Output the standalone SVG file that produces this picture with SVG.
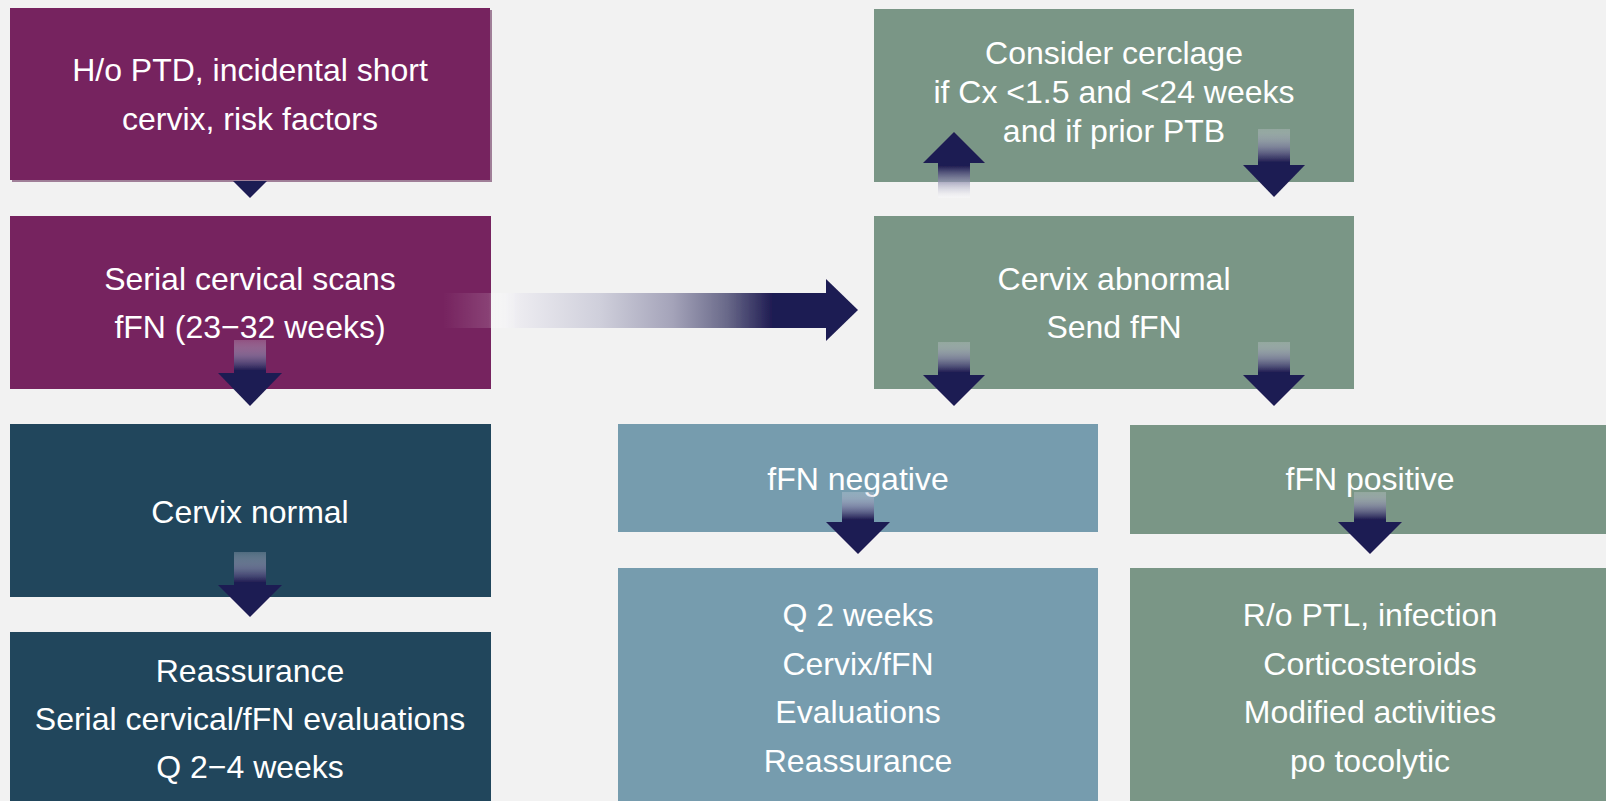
<svg xmlns="http://www.w3.org/2000/svg" width="1606" height="801" viewBox="0 0 1606 801">
  <style>
    .lbl { font-family: "Liberation Sans", Arial, sans-serif; font-size: 32px; fill: #ffffff; text-anchor: middle; }
    .purple { fill: #76235f; }
    .sage { fill: #7a9686; }
    .steel { fill: #769cae; }
    .teal { fill: #21465c; }
    .head { fill: #1f1c52; }
    .soft { filter: url(#soften); }
  </style>
  <defs>
    <filter id="soften" x="-10%" y="-10%" width="120%" height="120%">
      <feGaussianBlur stdDeviation="0.7"/>
    </filter>
    <!-- vertical shaft: pale at the tail, navy at the head -->
    <linearGradient id="shaftDown" x1="0" y1="0" x2="0" y2="1">
      <stop offset="0" stop-color="#dcdce8" stop-opacity="0.25"/>
      <stop offset="0.5" stop-color="#7d7aa0" stop-opacity="0.7"/>
      <stop offset="0.92" stop-color="#1f1c52" stop-opacity="1"/>
    </linearGradient>
    <linearGradient id="shaftUp" x1="0" y1="1" x2="0" y2="0">
      <stop offset="0" stop-color="#ffffff" stop-opacity="0.3"/>
      <stop offset="0.5" stop-color="#8a88aa" stop-opacity="0.75"/>
      <stop offset="0.92" stop-color="#1f1c52" stop-opacity="1"/>
    </linearGradient>
    <!-- long horizontal shaft -->
    <linearGradient id="shaftRight" gradientUnits="userSpaceOnUse" x1="443" y1="0" x2="826" y2="0">
      <stop offset="0" stop-color="#ffffff" stop-opacity="0"/>
      <stop offset="0.12" stop-color="#ffffff" stop-opacity="0.14"/>
      <stop offset="0.2" stop-color="#ecebf0" stop-opacity="1"/>
      <stop offset="0.41" stop-color="#cfcfdb"/>
      <stop offset="0.6" stop-color="#a4a3b9"/>
      <stop offset="0.74" stop-color="#6a6a8a"/>
      <stop offset="0.86" stop-color="#1f1c52"/>
      <stop offset="1" stop-color="#1f1c52"/>
    </linearGradient>
  </defs>

  <rect x="0" y="0" width="1606" height="801" fill="#f2f2f2"/>

  <!-- left column -->
  <g id="history">
    <rect x="12" y="10" width="480" height="172" fill="#a07f98"/>
    <rect class="purple" x="10" y="8" width="480" height="172"/>
    <text class="lbl" x="250" y="81">H/o PTD, incidental short</text>
    <text class="lbl" x="250" y="129.5">cervix, risk factors</text>
  </g>
  <g id="serial-scans">
    <rect class="purple" x="10" y="216" width="481" height="173"/>
    <text class="lbl" x="250" y="290">Serial cervical scans</text>
    <text class="lbl" x="250" y="338">fFN (23−32 weeks)</text>
  </g>
  <g id="cervix-normal">
    <rect class="teal" x="10" y="424" width="481" height="173"/>
    <text class="lbl" x="250" y="523">Cervix normal</text>
  </g>
  <g id="reassurance">
    <rect class="teal" x="10" y="632" width="481" height="175"/>
    <text class="lbl" x="250" y="681.5">Reassurance</text>
    <text class="lbl" x="250" y="730">Serial cervical/fFN evaluations</text>
    <text class="lbl" x="250" y="778">Q 2−4 weeks</text>
  </g>

  <!-- right column -->
  <g id="cerclage">
    <rect class="sage" x="874" y="9" width="480" height="173"/>
    <text class="lbl" x="1114" y="64">Consider cerclage</text>
    <text class="lbl" x="1114" y="103">if Cx &lt;1.5 and &lt;24 weeks</text>
    <text class="lbl" x="1114" y="142">and if prior PTB</text>
  </g>
  <g id="cervix-abnormal">
    <rect class="sage" x="874" y="216" width="480" height="173"/>
    <text class="lbl" x="1114" y="290">Cervix abnormal</text>
    <text class="lbl" x="1114" y="338">Send fFN</text>
  </g>
  <g id="ffn-negative">
    <rect class="steel" x="618" y="424" width="480" height="108"/>
    <text class="lbl" x="858" y="490">fFN negative</text>
  </g>
  <g id="ffn-positive">
    <rect class="sage" x="1130" y="425" width="480" height="109"/>
    <text class="lbl" x="1370" y="490">fFN positive</text>
  </g>
  <g id="negative-plan">
    <rect class="steel" x="618" y="568" width="480" height="240"/>
    <text class="lbl" x="858" y="626">Q 2 weeks</text>
    <text class="lbl" x="858" y="675">Cervix/fFN</text>
    <text class="lbl" x="858" y="723">Evaluations</text>
    <text class="lbl" x="858" y="772">Reassurance</text>
  </g>
  <g id="positive-plan">
    <rect class="sage" x="1130" y="568" width="480" height="240"/>
    <text class="lbl" x="1370" y="626">R/o PTL, infection</text>
    <text class="lbl" x="1370" y="675">Corticosteroids</text>
    <text class="lbl" x="1370" y="723">Modified activities</text>
    <text class="lbl" x="1370" y="772">po tocolytic</text>
  </g>

  <!-- connectors -->
  <g id="connectors" class="soft">
    <!-- history to serial scans: only the tip shows below the box -->
    <polygon class="head" points="233,181 267,181 250,198"/>

    <!-- serial scans to cervix normal -->
    <rect x="234" y="340" width="32" height="33" fill="url(#shaftDown)"/>
    <polygon class="head" points="218,373 282,373 250,406"/>

    <!-- cervix normal to reassurance -->
    <rect x="234" y="552" width="32" height="33" fill="url(#shaftDown)"/>
    <polygon class="head" points="218,585 282,585 250,617"/>

    <!-- serial scans to cervix abnormal -->
    <rect x="443" y="293" width="383" height="35" fill="url(#shaftRight)"/>
    <polygon class="head" points="826,279 858,310 826,341"/>

    <!-- cervix abnormal up to cerclage -->
    <rect x="938" y="163" width="32" height="35" fill="url(#shaftUp)"/>
    <polygon class="head" points="923,163 985,163 954,132"/>

    <!-- cerclage back down to cervix abnormal -->
    <rect x="1258" y="129" width="32" height="36" fill="url(#shaftDown)"/>
    <polygon class="head" points="1243,165 1305,165 1274,197"/>

    <!-- cervix abnormal to fFN results -->
    <rect x="938" y="342" width="32" height="33" fill="url(#shaftDown)"/>
    <polygon class="head" points="923,375 985,375 954,406"/>
    <rect x="1258" y="342" width="32" height="33" fill="url(#shaftDown)"/>
    <polygon class="head" points="1243,375 1305,375 1274,406"/>

    <!-- fFN results to plans -->
    <rect x="842" y="492" width="32" height="30" fill="url(#shaftDown)"/>
    <polygon class="head" points="826,522 890,522 858,554"/>
    <rect x="1354" y="492" width="32" height="30" fill="url(#shaftDown)"/>
    <polygon class="head" points="1338,522 1402,522 1370,554"/>
  </g>
</svg>
